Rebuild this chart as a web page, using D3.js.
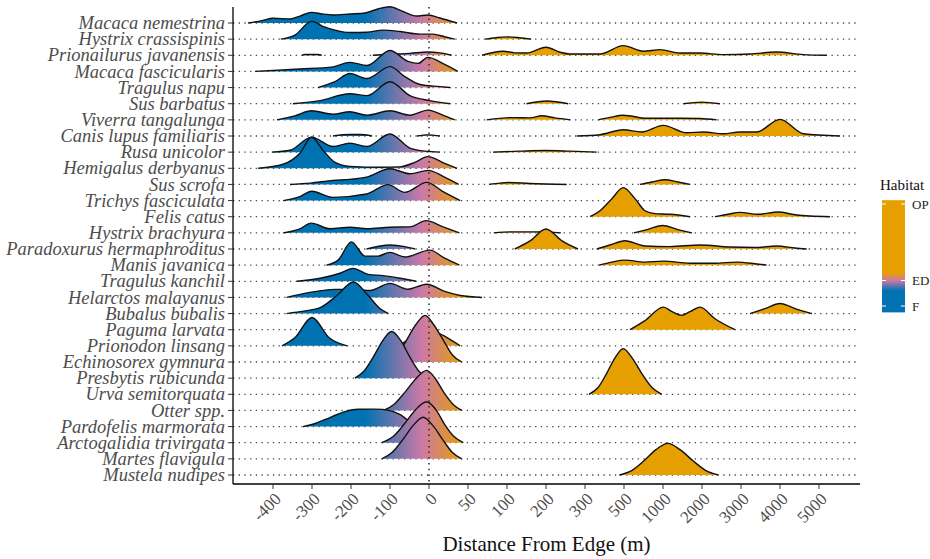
<!DOCTYPE html>
<html>
<head>
<meta charset="utf-8">
<title>Distance from edge ridgelines</title>
<script src="https://d3js.org/d3.v7.min.js"></script>
<style>
  body { margin: 0; background: #fff; }
  text { font-family: "Liberation Serif", "Times New Roman", serif; }
</style>
</head>
<body>
<div id="chart"></div>
<script>
// species, top to bottom
const species = [
  "Macaca nemestrina", "Hystrix crassispinis", "Prionailurus javanensis", "Macaca fascicularis",
  "Tragulus napu", "Sus barbatus", "Viverra tangalunga", "Canis lupus familiaris", "Rusa unicolor",
  "Hemigalus derbyanus", "Sus scrofa", "Trichys fasciculata", "Felis catus", "Hystrix brachyura",
  "Paradoxurus hermaphroditus", "Manis javanica", "Tragulus kanchil", "Helarctos malayanus",
  "Bubalus bubalis", "Paguma larvata", "Prionodon linsang", "Echinosorex gymnura",
  "Presbytis rubicunda", "Urva semitorquata", "Otter spp.", "Pardofelis marmorata",
  "Arctogalidia trivirgata", "Martes flavigula", "Mustela nudipes"
];

const xTicks = [-400, -300, -200, -100, 0, 50, 100, 200, 300, 500, 1000, 2000, 3000, 4000, 5000];

const habitatLabels = ["F", "ED", "OP"];
const habitatCodes = [1, 2, 5];
// distance (m) at which the fill is pure F / ED / OP colour
const habitatStops = [-165, -18, 42];
const habitatColors = ["#0072B2", "#CC79A7", "#E69F00"];

// density segments per species: [distance m, density (in row heights)]
const ridges = [
  // Macaca nemestrina
  [[[-464,0],[-428,0.15],[-400,0.29],[-356,0.25],[-331,0.43],[-301,0.66],[-274,0.56],[-246,0.5],[-203,0.56],[-164,0.62],[-131,0.87],[-100,1.01],[-69,0.74],[-32,0.43],[-2,0.5],[14,0.31],[36,0]]],
  // Hystrix crassispinis
  [[[-380,0],[-344,0.25],[-301,1.1],[-267,0.74],[-241,0.56],[-203,0.41],[-159,0.43],[-118,0.56],[-74,0.47],[-23,0.31],[5,0.31],[20,0.15],[33,0]],
   [[72,0],[86,0.09],[100,0.14],[131,0.09],[162,0]]],
  // Prionailurus javanensis
  [[[-326,0],[-318,0.05],[-285,0.05],[-275,0]],
   [[-144,0],[-100,0.06],[-49,0.12],[-3,0.2],[14,0.15],[29,0]],
   [[68,0],[95,0.25],[120,0.15],[150,0.14],[200,0.5],[236,0.19],[261,0.08],[377,0.08],[496,0.6],[748,0.25],[962,0.35],[1436,0.14],[1949,0.14],[2546,0.04],[3231,0.08],[3915,0.2],[4597,0.04],[5197,0]]],
  // Macaca fascicularis
  [[[-446,0],[-331,0.15],[-246,0.28],[-203,0.56],[-159,0.37],[-100,1.3],[-54,0.62],[-28,0.5],[-3,0.87],[20,0.43],[37,0]]],
  // Tragulus napu
  [[[-285,0],[-241,0.37],[-203,0.87],[-159,0.56],[-100,1.3],[-62,0.68],[-23,0.19],[14,0.06],[27,0]]],
  // Sus barbatus
  [[[-349,0],[-279,0.19],[-203,0.62],[-159,0.5],[-100,1.36],[-49,0.5],[1,0.19],[27,0]],
   [[150,0],[202,0.17],[257,0]],
   [[1521,0],[1992,0.1],[2461,0]]],
  // Viverra tangalunga
  [[[-390,0],[-344,0.25],[-301,0.56],[-246,0.35],[-203,0.5],[-159,0.29],[-100,0.56],[-49,0.29],[-3,0.6],[17,0.31],[33,0]],
   [[74,0],[115,0.14],[159,0.12],[189,0.25],[223,0.12],[262,0]],
   [[368,0],[428,0.15],[496,0.29],[791,0.1],[1436,0.1],[1949,0.08],[2377,0]]],
  // Canis lupus familiaris
  [[[-246,0],[-203,0.09],[-177,0.09],[-146,0]],
   [[-31,0],[-3,0.07],[14,0]],
   [[279,0],[377,0.08],[496,0.39],[727,0.25],[1008,0.66],[1608,0.2],[2033,0.25],[2546,0.14],[2974,0.25],[3402,0.25],[4000,1.03],[4597,0.14],[5538,0]]],
  // Rusa unicolor
  [[[-403,0],[-356,0.12],[-301,0.93],[-246,0.35],[-203,0.56],[-159,0.35],[-100,1.12],[-49,0.25],[-10,0.06],[14,0]],
   [[82,0],[133,0.06],[197,0.1],[261,0.06],[360,0]]],
  // Hemigalus derbyanus
  [[[-438,0],[-374,0.25],[-331,0.93],[-301,1.92],[-272,1.12],[-241,0.37],[-203,0.12],[-126,0.06],[-74,0.09],[-36,0.37],[-3,0.72],[20,0.31],[36,0]]],
  // Sus scrofa
  [[[-356,0],[-305,0.08],[-246,0.25],[-203,0.31],[-160,0.45],[-100,0.97],[-49,0.66],[-2,0.87],[18,0.5],[38,0]],
   [[77,0],[91,0.08],[104,0.12],[159,0.06],[253,0]],
   [[705,0],[859,0.15],[1051,0.29],[1385,0.15],[1692,0]]],
  // Trichys fasciculata
  [[[-374,0],[-331,0.25],[-301,0.58],[-246,0.2],[-160,0.41],[-105,0.99],[-62,0.51],[-6,1.13],[18,0.56],[40,0]]],
  // Felis catus
  [[[326,0],[377,0.37],[438,1.12],[496,1.8],[641,1.12],[769,0.37],[897,0.19],[1179,0.15],[1692,0]],
   [[2333,0],[2667,0.15],[2974,0.27],[3436,0.15],[3949,0.29],[4385,0.12],[4769,0.04],[5282,0]]],
  // Hystrix brachyura
  [[[-374,0],[-331,0.25],[-302,0.6],[-254,0.25],[-203,0.35],[-159,0.25],[-100,0.35],[-49,0.37],[-7,0.76],[18,0.37],[39,0]],
   [[83,0],[108,0.06],[182,0.06],[238,0]],
   [[628,0],[808,0.22],[996,0.46],[1359,0.22],[1744,0]]],
  // Paradoxurus hermaphroditus
  [[[-160,0],[-100,0.25],[-62,0.15],[-36,0]],
   [[120,0],[159,0.5],[200,1.24],[241,0.5],[282,0]],
   [[360,0],[428,0.25],[513,0.51],[769,0.19],[1179,0.15],[1949,0.25],[2718,0.12],[3359,0.09],[3915,0.19],[4385,0.06],[4684,0]]],
  // Manis javanica
  [[[-263,0],[-233,0.31],[-199,1.44],[-164,0.56],[-131,0.56],[-101,0.79],[-62,0.5],[1,0.93],[20,0.43],[39,0]],
   [[372,0],[438,0.19],[513,0.31],[769,0.19],[1000,0.25],[1692,0.12],[2333,0.12],[2890,0.19],[3359,0.09],[3659,0]]],
  // Tragulus kanchil
  [[[-339,0],[-279,0.19],[-228,0.5],[-195,0.8],[-156,0.43],[-118,0.35],[-74,0.19],[-33,0]]],
  // Helarctos malayanus
  [[[-365,0],[-305,0.31],[-241,0.5],[-190,0.5],[-151,0.43],[-100,0.87],[-54,0.51],[-6,0.82],[20,0.37],[40,0.12],[68,0]]],
  // Bubalus bubalis
  [[[-365,0],[-331,0.12],[-279,0.37],[-236,1.12],[-194,1.96],[-156,1.12],[-126,0.31],[-104,0]],
   [[3231,0],[3615,0.31],[4000,0.62],[4385,0.31],[4821,0]]],
  // Paguma larvata
  [[[577,0],[769,0.56],[1008,1.4],[1231,1.12],[1479,0.89],[1692,1.12],[1949,1.4],[2333,0.68],[2846,0]]],
  // Prionodon linsang
  [[[-377,0],[-344,0.5],[-300,1.76],[-256,0.5],[-210,0]],
   [[-79,0],[-44,0.5],[-10,0.93],[14,0.74],[30,0.31],[40,0]]],
  // Echinosorex gymnura
  [[[-105,0],[-82,0.43],[-59,1.3],[-34,2.31],[-10,2.89],[6,2.31],[19,1.3],[30,0.43],[42,0]]],
  // Presbytis rubicunda
  [[[-190,0],[-167,0.43],[-143,1.3],[-119,2.31],[-96,2.89],[-72,2.31],[-49,1.3],[-26,0.43],[-3,0]]],
  // Urva semitorquata
  [[[320,0],[367,0.42],[410,1.27],[454,2.26],[496,2.83],[603,2.26],[731,1.27],[859,0.42],[983,0]]],
  // Otter spp.
  [[[-117,0],[-90,0.37],[-62,1.12],[-33,1.98],[-6,2.48],[8,1.98],[19,1.12],[31,0.37],[42,0]]],
  // Pardofelis marmorata
  [[[-323,0],[-292,0.19],[-254,0.56],[-215,0.93],[-182,1.07],[-138,1.08],[-100,0.99],[-74,0.74],[-49,0.31],[-23,0.06],[-3,0]]],
  // Arctogalidia trivirgata
  [[[-121,0],[-92,0.38],[-64,1.14],[-35,2.03],[-6,2.54],[9,2.03],[20,1.14],[32,0.38],[44,0]]],
  // Martes flavigula
  [[[-121,0],[-95,0.39],[-68,1.16],[-41,2.06],[-15,2.58],[5,2.06],[18,1.16],[30,0.39],[42,0]]],
  // Mustela nudipes
  [[[476,0],[603,0.29],[756,0.88],[910,1.57],[1128,1.96],[1436,1.57],[1769,0.88],[2090,0.29],[2418,0]]]
];

// layout
const width = 930, height = 559;
const margin = {top: 7, right: 70, bottom: 75, left: 233};
const w = width - margin.left - margin.right;
const h = height - margin.top - margin.bottom;

const svg = d3.select("#chart")
  .append("svg")
    .attr("width", width)
    .attr("height", height)
  .append("g")
    .attr("transform", "translate(" + margin.left + "," + margin.top + ")");

// evenly spaced breaks, piecewise linear in between
const tickPos = d3.scalePoint().domain(xTicks).range([40, 586]);
const x = d3.scaleLinear().domain(xTicks).range(xTicks.map(d => tickPos(d)));

const y = d3.scalePoint().domain(species).range([16, 468]);
const dens = d3.scaleLinear().domain([0, 1]).range([0, y.step()]);

const fillScale = d3.scaleLinear().domain(habitatStops).range(habitatColors);

const defs = svg.append("defs");
const grad = defs.append("linearGradient")
  .attr("id", "habitatFill")
  .attr("gradientUnits", "userSpaceOnUse")
  .attr("x1", x(habitatStops[0])).attr("x2", x(habitatStops[2]))
  .attr("y1", 0).attr("y2", 0);
grad.selectAll("stop")
  .data(habitatStops)
  .enter().append("stop")
    .attr("offset", d => (x(d) - x(habitatStops[0])) / (x(habitatStops[2]) - x(habitatStops[0])))
    .attr("stop-color", d => fillScale(d));

// dotted row guides
svg.append("g").selectAll("line")
  .data(species)
  .enter().append("line")
    .attr("x1", 0).attr("x2", w)
    .attr("y1", d => y(d)).attr("y2", d => y(d))
    .attr("stroke", "#444")
    .attr("stroke-width", 1.3)
    .attr("stroke-dasharray", "1.3,4.4");

// ridges, top row first so lower rows overlap
const ridgeG = svg.append("g");
species.forEach(function(name, i) {
  const base = y(name);
  const area = d3.area()
    .x(d => x(d[0]))
    .y0(base)
    .y1(d => base - dens(d[1]))
    .curve(d3.curveMonotoneX);
  const top = d3.line()
    .x(d => x(d[0]))
    .y(d => base - dens(d[1]))
    .curve(d3.curveMonotoneX);
  ridges[i].forEach(function(seg) {
    ridgeG.append("path")
      .attr("d", area(seg))
      .attr("fill", "url(#habitatFill)");
    ridgeG.append("path")
      .attr("d", top(seg))
      .attr("fill", "none")
      .attr("stroke", "#111")
      .attr("stroke-width", 1.4);
  });
});

// edge line at 0
svg.append("line")
  .attr("x1", x(0)).attr("x2", x(0))
  .attr("y1", 0).attr("y2", h)
  .attr("stroke", "#333")
  .attr("stroke-width", 1.6)
  .attr("stroke-dasharray", "1.5,4.2");

// axes
const xAxis = svg.append("g")
  .attr("transform", "translate(0," + h + ")");
xAxis.append("line")
  .attr("x1", 0).attr("x2", w)
  .attr("stroke", "#000").attr("stroke-width", 1.3);
xAxis.selectAll(".tick")
  .data(xTicks)
  .enter().append("line")
    .attr("x1", d => x(d)).attr("x2", d => x(d))
    .attr("y1", 0).attr("y2", 5)
    .attr("stroke", "#333");
xAxis.selectAll("text")
  .data(xTicks)
  .enter().append("text")
    .attr("transform", d => "translate(" + (x(d) + 9) + ",16) rotate(-45)")
    .attr("text-anchor", "end")
    .attr("font-size", "17px")
    .attr("fill", "#4d4d4d")
    .text(d => d);

const yAxis = svg.append("g");
yAxis.append("line")
  .attr("x1", 0).attr("x2", 0)
  .attr("y1", 0).attr("y2", h)
  .attr("stroke", "#000").attr("stroke-width", 1.3);
yAxis.selectAll(".tick")
  .data(species)
  .enter().append("line")
    .attr("x1", -5).attr("x2", 0)
    .attr("y1", d => y(d)).attr("y2", d => y(d))
    .attr("stroke", "#333");
yAxis.selectAll("text")
  .data(species)
  .enter().append("text")
    .attr("x", -8)
    .attr("y", d => y(d))
    .attr("dy", "0.33em")
    .attr("text-anchor", "end")
    .attr("font-size", "18.5px")
    .attr("font-style", "italic")
    .attr("fill", "#4d4d4d")
    .text(d => d);

// axis title
svg.append("text")
  .attr("x", w / 2)
  .attr("y", h + 67)
  .attr("text-anchor", "middle")
  .attr("font-size", "21px")
  .attr("fill", "#111")
  .text("Distance From Edge (m)");

// legend
const legendScale = d3.scaleLinear().domain([1, 5]).range([306 - margin.top, 204 - margin.top]);
const legend = svg.append("g").attr("transform", "translate(" + (882 - margin.left) + ",0)");
const lgrad = defs.append("linearGradient")
  .attr("id", "legendFill")
  .attr("gradientUnits", "userSpaceOnUse")
  .attr("x1", 0).attr("x2", 0)
  .attr("y1", legendScale(0.75)).attr("y2", legendScale(5.15));
const legendStops = [1.6, 2.0, 2.3];
lgrad.selectAll("stop")
  .data(legendStops)
  .enter().append("stop")
    .attr("offset", d => (d - 0.75) / (5.15 - 0.75))
    .attr("stop-color", (d, i) => habitatColors[i]);

legend.append("text")
  .attr("x", -2)
  .attr("y", legendScale(5.15) - 10)
  .attr("font-size", "15px")
  .attr("fill", "#111")
  .text("Habitat");
legend.append("rect")
  .attr("x", 0).attr("y", legendScale(5.15))
  .attr("width", 23)
  .attr("height", legendScale(0.75) - legendScale(5.15))
  .attr("fill", "url(#legendFill)");
habitatCodes.forEach(function(c, i) {
  legend.append("line")
    .attr("x1", 0).attr("x2", 4)
    .attr("y1", legendScale(c)).attr("y2", legendScale(c))
    .attr("stroke", "#fff").attr("stroke-width", 1);
  legend.append("line")
    .attr("x1", 19).attr("x2", 23)
    .attr("y1", legendScale(c)).attr("y2", legendScale(c))
    .attr("stroke", "#fff").attr("stroke-width", 1);
  legend.append("text")
    .attr("x", 30)
    .attr("y", legendScale(c))
    .attr("dy", "0.35em")
    .attr("font-size", "13px")
    .attr("fill", "#222")
    .text(habitatLabels[i]);
});
</script>
</body>
</html>
